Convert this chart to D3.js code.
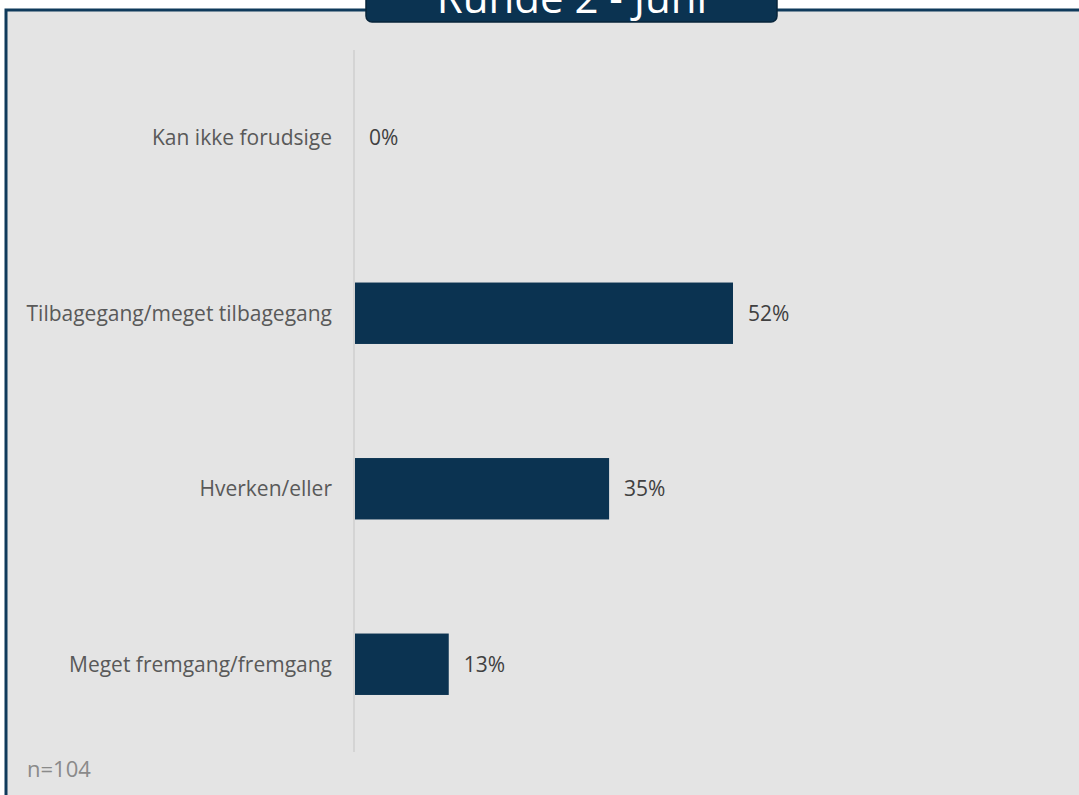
<!DOCTYPE html>
<html>
<head>
<meta charset="utf-8">
<script src="https://cdn.jsdelivr.net/npm/d3@7"></script>
<style>
  body { margin: 0; background: #ffffff; }
  svg { display: block; }
</style>
</head>
<body>
<script>
// data
const categories = ["Kan ikke forudsige", "Tilbagegang/meget tilbagegang", "Hverken/eller", "Meget fremgang/fremgang"];
const values = [0, 52, 35, 13];
const title = "Runde 2 - Juni";
const note = "n=104";

let canvasW = 1079;
let canvasH = 795;

let svg = d3.select("body")
  .append("svg")
    .attr("width", canvasW)
    .attr("height", canvasH);

// panel background + frame
svg.append("rect")
  .attr("x", 6)
  .attr("y", 10)
  .attr("width", canvasW + 10)
  .attr("height", canvasH + 10)
  .attr("fill", "#e4e4e4")
  .attr("stroke", "#0f3a5b")
  .attr("stroke-width", 3);

let xScale = d3.scaleLinear()
  .domain([0, 52])
  .range([354, 733]);

let yScale = d3.scaleBand()
  .domain(categories)
  .range([50, 752])
  .paddingInner(0.65)
  .paddingOuter(0.325);

// axis line
svg.append("line")
  .attr("x1", xScale(0)).attr("x2", xScale(0))
  .attr("y1", 50).attr("y2", 752)
  .attr("stroke", "#d4d4d4")
  .attr("stroke-width", 2);

svg.selectAll(".bar")
  .data(values)
  .enter()
  .append("rect")
    .attr("class", "bar")
    .attr("x", xScale(0) + 1)
    .attr("y", (d, i) => yScale(categories[i]))
    .attr("width", d => Math.max(0, xScale(d) - xScale(0) - 1))
    .attr("height", yScale.bandwidth())
    .attr("fill", "#0b3351");

// category labels
svg.selectAll(".cat")
  .data(categories)
  .enter()
  .append("text")
    .attr("x", 332)
    .attr("y", d => yScale(d) + yScale.bandwidth() / 2)
    .attr("dy", "0.35em")
    .attr("text-anchor", "end")
    .attr("font-family", "Open Sans")
    .attr("font-size", "21px")
    .attr("fill", "#595959")
    .text(d => d);

// value labels
svg.selectAll(".val")
  .data(values)
  .enter()
  .append("text")
    .attr("x", d => xScale(d) + 15)
    .attr("y", (d, i) => yScale(categories[i]) + yScale.bandwidth() / 2)
    .attr("dy", "0.35em")
    .attr("font-family", "Open Sans")
    .attr("font-size", "21px")
    .attr("fill", "#404040")
    .text(d => d + "%");

// title tab
svg.append("rect")
  .attr("x", 366)
  .attr("y", -20)
  .attr("width", 411)
  .attr("height", 42)
  .attr("rx", 6)
  .attr("fill", "#0b3351")
  .attr("stroke", "#07243a")
  .attr("stroke-width", 1.5);

svg.append("text")
  .attr("x", 572)
  .attr("y", 13)
  .attr("text-anchor", "middle")
  .attr("font-family", "Open Sans")
  .attr("font-size", "42px")
  .attr("fill", "#ffffff")
  .text(title);

svg.append("text")
  .attr("x", 27)
  .attr("y", 777)
  .attr("font-family", "Open Sans")
  .attr("font-size", "22px")
  .attr("fill", "#8a8a8a")
  .text(note);
</script>
</body>
</html>
